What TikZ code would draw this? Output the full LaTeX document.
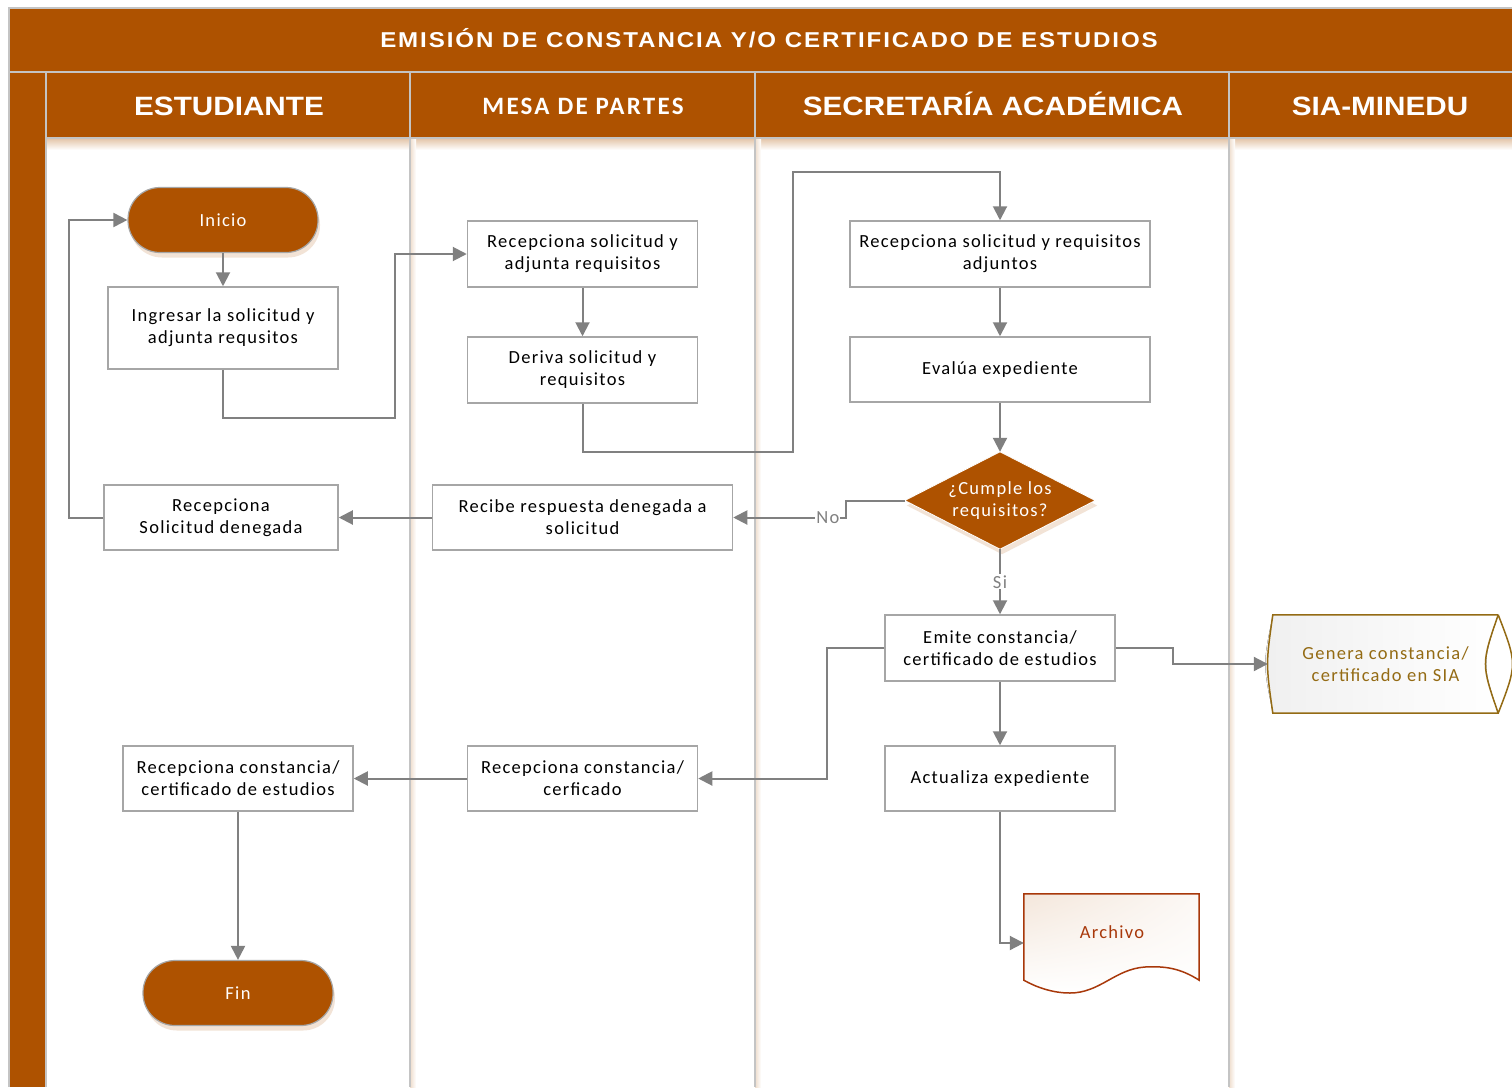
\documentclass[tikz,border=0pt]{standalone}
\usepackage{fontspec}
\usepackage{graphicx}
\setmainfont{Carlito}
\newfontfamily\bodyf[LetterSpace=7]{Carlito}
\newfontfamily\ttlfont[LetterSpace=8]{Liberation Sans}
\newfontfamily\lanefont{Liberation Sans}
\newfontfamily\mesafont[LetterSpace=9]{Carlito}
\usetikzlibrary{arrows.meta,shapes.geometric,shadows,shadings,calc}
\definecolor{brn}{HTML}{AE5200}
\definecolor{cgray}{HTML}{808080}
\definecolor{bgray}{HTML}{A6A6A6}
\definecolor{lgray}{HTML}{C4C4C4}
\definecolor{siatxt}{HTML}{946B14}
\definecolor{arctxt}{HTML}{A8380A}
\tikzset{
  body/.style={font=\bodyf\fontsize{18.5}{22}\selectfont},
  proc/.style={body, draw=bgray, line width=1.5pt, fill=white, minimum width=230pt, minimum height=66pt, align=center, inner sep=2pt},
  term/.style={body, draw=bgray, line width=1.2pt, fill=brn, text=white, rounded corners=32pt, minimum width=190pt, minimum height=65pt,
    drop shadow={shadow xshift=2pt, shadow yshift=-5pt, fill=brn!45, opacity=0.35}},
  conn/.style={draw=cgray, line width=2pt, -{Triangle[length=14pt,width=14pt]}},
  lane/.style={font=\lanefont\bfseries\fontsize{26.5}{30}\selectfont, text=white, anchor=base},
  lbl/.style={body, text=cgray, fill=white, inner sep=1pt},
}
\begin{document}
\begin{tikzpicture}[x=1pt,y=-1pt]
\useasboundingbox (0,0) rectangle (1512,1087);
\fill[white] (0,0) rectangle (1512,1087);
% pool
\fill[brn] (9,8) rectangle (1512,72);
\fill[brn] (9,72) rectangle (46,1087);
\fill[brn] (46,72) rectangle (1512,138);
\shade[top color=brn!35, bottom color=white] (46,138) rectangle (1512,150);
\foreach \x in {410,755,1229} {
  \shade[left color=brn!20, right color=white] (\x,138) rectangle (\x+6,1087);
  \draw[lgray, line width=2pt] (\x,72) -- (\x,1087);
}
\draw[lgray, line width=1.5pt] (9,1087) -- (9,8) -- (1512,8);
\draw[lgray, line width=2pt] (9,72) -- (1512,72);
\draw[lgray, line width=2pt] (46,72) -- (46,1087);
\draw[lgray, line width=1.5pt] (46,138) -- (1512,138);
% titles
\node[font=\ttlfont\bfseries\fontsize{21.5}{24}\selectfont, text=white, anchor=base] (ttl) at (769,47) {\scalebox{1.12}[1]{EMISIÓN DE CONSTANCIA Y/O CERTIFICADO DE ESTUDIOS}};
\node[lane] (l1) at (229,115) {\scalebox{1.12}[1]{ESTUDIANTE}};
\node[lane, font=\mesafont\bfseries\fontsize{25}{28}\selectfont] (l2) at (583,114) {MESA DE PARTES};
\node[lane] (l3) at (993,115) {\scalebox{1.12}[1]{SECRETARÍA ACADÉMICA}};
\node[lane] (l4) at (1380,115) {\scalebox{1.12}[1]{SIA-MINEDU}};
% nodes
\node[term] (ini) at (223,220) {Inicio};
\node[proc, minimum height=82pt] (ing) at (223,328) {Ingresar la solicitud y\\adjunta requsitos};
\node[proc] (rmp) at (582.5,254) {Recepciona solicitud y\\adjunta requisitos};
\node[proc] (der) at (582.5,370) {Deriva solicitud y\\requisitos};
\node[proc, minimum width=300pt] (rsa) at (1000,254) {Recepciona solicitud y requisitos\\adjuntos};
\node[proc, minimum width=300pt, minimum height=65pt] (eva) at (1000,369.5) {Evalúa expediente};
% decision
\node[body, text=white, inner sep=0pt, minimum width=190pt, minimum height=97pt, align=center] (dec) at (1000,500.5) {};
\fill[brn!45, opacity=0.35] ([shift={(2pt,-5pt)}]dec.north) -- ([shift={(2pt,-5pt)}]dec.east) -- ([shift={(2pt,-5pt)}]dec.south) -- ([shift={(2pt,-5pt)}]dec.west) -- cycle;
\filldraw[fill=brn, draw=white, line width=0.8pt] (dec.north) -- (dec.east) -- (dec.south) -- (dec.west) -- cycle;
\node[body, text=white, align=center] at (dec.center) {¿Cumple los\\requisitos?};
\node[proc, minimum width=300pt, minimum height=65pt] (rec) at (582.5,517.5) {Recibe respuesta denegada a\\solicitud};
\node[proc, minimum width=234pt, minimum height=65pt] (rsd) at (221,517.5) {Recepciona\\Solicitud denegada};
\node[proc] (emi) at (1000,648) {Emite constancia/\\certificado de estudios};
\node[proc, minimum height=65pt] (act) at (1000,778.5) {Actualiza expediente};
\node[proc, minimum height=65pt] (rcm) at (582.5,778.5) {Recepciona constancia/\\cerficado};
\node[proc, minimum height=65pt] (rce) at (238,778.5) {Recepciona constancia/\\certificado de estudios};
\node[term] (fin) at (238,993) {Fin};
% stored data (SIA)
\node[minimum width=225pt, minimum height=98pt, inner sep=0pt] (sia) at (1385.5,664) {};
\fill[left color=gray!12, right color=white]
  (sia.north west) -- (sia.north east)
  .. controls ([xshift=-16pt]sia.east) and ([xshift=-16pt]sia.east) .. (sia.south east)
  -- (sia.south west)
  .. controls ([xshift=-10pt]sia.west) and ([xshift=-10pt]sia.west) .. (sia.north west);
\draw[siatxt, line width=1.5pt]
  (sia.north east) .. controls ([xshift=-17pt]sia.east) and ([xshift=-17pt]sia.east) .. (sia.south east)
  (sia.north east) .. controls ([xshift=19pt]sia.east) and ([xshift=19pt]sia.east) .. (sia.south east)
  -- (sia.south west)
  .. controls ([xshift=-7pt]sia.west) and ([xshift=-7pt]sia.west) .. (sia.north west) -- (sia.north east);
\node[body, text=siatxt, align=center] at (1385.5,664) {Genera constancia/\\certificado en SIA};
% document (Archivo)
\node[minimum width=175pt, minimum height=86pt, inner sep=0pt] (arc) at (1111.5,937) {};
\shade[upper left=brn!14, upper right=brn!4, lower left=white, lower right=white]
  (arc.south west) -- (arc.north west) -- (arc.north east) -- (arc.south east)
  .. controls (1180,968) and (1165,966) .. (1145,967)
  .. controls (1115,969) and (1100,993) .. (1070,993)
  .. controls (1052,993) and (1036,987) .. (arc.south west) -- cycle;
\draw[draw=arctxt, line width=1.5pt]
  (arc.south west) -- (arc.north west) -- (arc.north east) -- (arc.south east)
  .. controls (1180,968) and (1165,966) .. (1145,967)
  .. controls (1115,969) and (1100,993) .. (1070,993)
  .. controls (1052,993) and (1036,987) .. (arc.south west) -- cycle;
\node[body, text=arctxt] at (1112,932) {Archivo};
% connectors
\draw[conn] (ini) -- (ing);
\draw[conn] (ing.south) -- ++(0,48) -| (395,254) -- (rmp.west);
\draw[conn] (rmp) -- (der);
\draw[conn] (der.south) -- ++(0,48) -| (793,172) -| (rsa.north);
\draw[conn] (rsa) -- (eva);
\draw[conn] (eva) -- (dec.north);
\draw[conn] (dec.west) -- ++(-59,0) |- node[lbl, pos=0.58] {No} (rec.east);
\draw[conn] (dec.south) -- node[lbl, pos=0.5] {Si} (emi.north);
\draw[conn] (rec) -- (rsd);
\draw[conn] (rsd.west) -- ++(-34,0) |- (ini.west);
\draw[conn] (emi.east) -- ++(57,0) |- ([xshift=-5pt]sia.west);
\draw[conn] (emi) -- (act);
\draw[conn] (emi.west) -- ++(-57,0) |- (rcm.east);
\draw[conn] (act.south) |- ([yshift=-6pt]arc.west);
\draw[conn] (rcm) -- (rce);
\draw[conn] (rce) -- (fin);
\end{tikzpicture}
\end{document}
